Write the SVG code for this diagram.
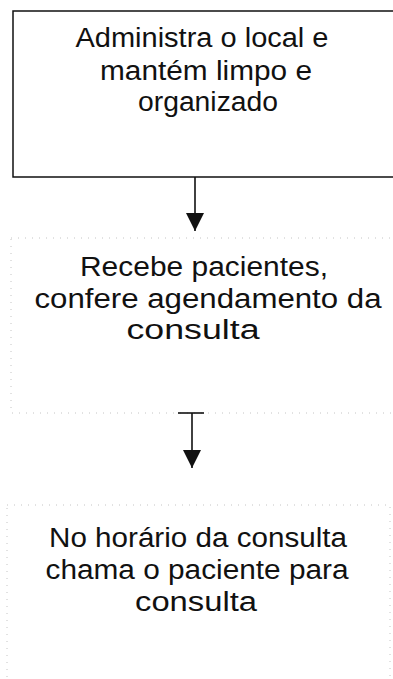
<svg xmlns="http://www.w3.org/2000/svg" width="393" height="679" viewBox="0 0 393 679">
<defs>
<style>
.t{font-family:"Liberation Sans",Arial,sans-serif;font-size:27px;fill:#111;text-anchor:middle}
.box{fill:none;stroke:#111;stroke-width:1.5}
.faint{fill:none;stroke:#c4c4c4;stroke-width:1;stroke-dasharray:1 6}
.con{fill:none;stroke:#111;stroke-width:1.6}
</style>
<marker id="arr" markerUnits="userSpaceOnUse" markerWidth="20" markerHeight="20" refX="18" refY="9" orient="auto">
<path d="M0,0 L18,9 L0,18 Z" fill="#111"/>
</marker>
</defs>
<g id="node1">
<path class="box" d="M400,11 L13,11 L13,177 L400,177"/>
<text class="t" x="202" y="47" textLength="253" lengthAdjust="spacingAndGlyphs">Administra o local e</text>
<text class="t" x="206" y="80" textLength="212" lengthAdjust="spacingAndGlyphs">mantém limpo e</text>
<text class="t" x="208" y="111" textLength="140" lengthAdjust="spacingAndGlyphs">organizado</text>
</g>
<g id="node2">
<rect class="faint" x="11" y="238" width="400" height="175"/>
<text class="t" x="204" y="276" textLength="248" lengthAdjust="spacingAndGlyphs">Recebe pacientes,</text>
<text class="t" x="208" y="308" textLength="347" lengthAdjust="spacingAndGlyphs">confere agendamento da</text>
<text class="t" x="193" y="339" textLength="133" lengthAdjust="spacingAndGlyphs">consulta</text>
</g>
<g id="node3">
<rect class="faint" x="7" y="505" width="383" height="200"/>
<text class="t" x="198" y="547" textLength="298" lengthAdjust="spacingAndGlyphs">No horário da consulta</text>
<text class="t" x="197" y="579" textLength="303" lengthAdjust="spacingAndGlyphs">chama o paciente para</text>
<text class="t" x="196" y="611" textLength="122" lengthAdjust="spacingAndGlyphs">consulta</text>
</g>
<g id="connectors">
<line class="con" x1="195" y1="177" x2="195" y2="231" marker-end="url(#arr)"/>
<line class="con" x1="178" y1="413" x2="204" y2="413"/>
<line class="con" x1="192" y1="413" x2="192" y2="468" marker-end="url(#arr)"/>
</g>
</svg>
